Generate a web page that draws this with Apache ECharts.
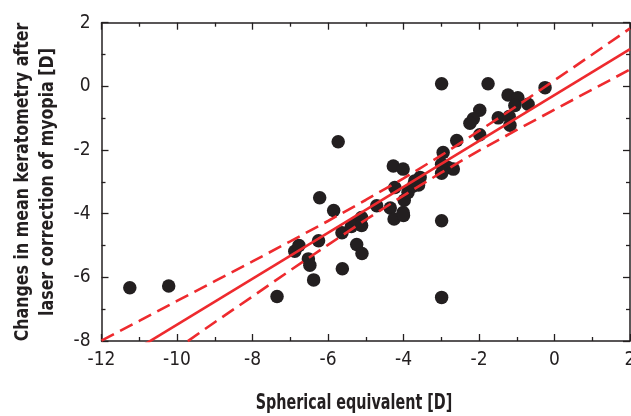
<!DOCTYPE html>
<html>
<head>
<meta charset="utf-8">
<script src="https://cdn.jsdelivr.net/npm/echarts@6/dist/echarts.min.js"></script>
<style>
html,body{margin:0;padding:0;background:#fff;}
#chart{width:631px;height:416px;}
</style>
</head>
<body>
<div id="chart"></div>
<script>
// Scatter data: [spherical equivalent, change in mean keratometry]
const sphericalEquivalent = [-11.25,-10.22,-7.35,-6.88,-6.77,-6.52,-6.48,-6.38,-6.25,-6.22,-5.85,-5.73,-5.63,-5.62,-5.38,-5.24,-5.24,-5.10,-5.11,-5.11,-4.71,-4.27,-4.01,-4.23,-4.35,-4.01,-4.25,-4.00,-3.98,-3.88,-3.74,-3.70,-3.56,-3.60,-2.99,-1.76,-0.25,-1.23,-0.97,-0.70,-1.05,-1.98,-2.15,-2.24,-1.49,-1.20,-1.18,-1.98,-2.59,-2.95,-2.99,-2.82,-2.68,-2.99,-2.99,-2.99];
const keratometryChange  = [-6.33,-6.27,-6.60,-5.18,-5.00,-5.42,-5.62,-6.08,-4.85,-3.50,-3.90,-1.74,-4.60,-5.73,-4.40,-4.27,-4.97,-5.25,-4.12,-4.37,-3.75,-2.50,-2.60,-3.18,-3.82,-3.96,-4.17,-4.06,-3.58,-3.33,-3.13,-2.97,-2.86,-3.10,0.08,0.08,-0.04,-0.27,-0.36,-0.56,-0.60,-0.75,-1.02,-1.16,-0.99,-0.95,-1.22,-1.52,-1.70,-2.08,-2.45,-2.55,-2.60,-2.73,-4.22,-6.63];

// Regression line
const fitX = [-12, 2];
const fitY = [-8.93, 1.17];
// Confidence band
const bandX     = [-12,-11,-10,-9,-8,-7,-6,-5,-4,-3,-2,-1,0,1,2];
const bandUpper = [-7.99,-7.37,-6.74,-6.12,-5.50,-4.87,-4.23,-3.57,-2.89,-2.17,-1.40,-0.62,0.19,1.00,1.82];
const bandLower = [-9.88,-9.06,-8.24,-7.41,-6.60,-5.78,-4.98,-4.19,-3.43,-2.71,-2.02,-1.37,-0.73,-0.10,0.53];

const xTicks = [-12,-10,-8,-6,-4,-2,0,2];
const yTicks = [-8,-6,-4,-2,0,2];
const xTitle = 'Spherical equivalent [D]';
const yTitle = ['Changes in mean keratometry after', 'laser correction of myopia [D]'];

const zip = (a, b) => a.map((v, i) => [v, b[i]]);
const FONT = '"DejaVu Sans Condensed","Liberation Sans Narrow",sans-serif';
const INK = '#231f20';
const RED = '#ee2a2e';

const axisCommon = {
  axisLine: {show: true, onZero: false, lineStyle: {color: INK, width: 1.5}},
  axisTick: {show: true, inside: true, length: 7, lineStyle: {color: INK, width: 1.3}},
  minorTick: {show: true, splitNumber: 2, length: 4, lineStyle: {color: INK, width: 1.3}},
  splitLine: {show: false}
};

const chart = echarts.init(document.getElementById('chart'), null, {renderer: 'canvas'});
chart.setOption({
  animation: false,
  backgroundColor: '#fff',
  grid: {left: 101.5, right: 1, top: 22.7, bottom: 75, containLabel: false, outerBoundsMode: 'none'},
  xAxis: [
    Object.assign({type: 'value', min: xTicks[0], max: xTicks[xTicks.length-1], interval: 2, position: 'bottom',
      axisLabel: {color: INK, fontFamily: FONT, fontSize: 19, margin: 10, showMaxLabel: true, showMinLabel: true}}, axisCommon),
    Object.assign({type: 'value', min: xTicks[0], max: xTicks[xTicks.length-1], interval: 2, position: 'top',
      axisLabel: {show: false}}, axisCommon)
  ],
  yAxis: [
    Object.assign({type: 'value', min: yTicks[0], max: yTicks[yTicks.length-1], interval: 2, position: 'left',
      axisLabel: {color: INK, fontFamily: FONT, fontSize: 19, margin: 11}}, axisCommon),
    Object.assign({type: 'value', min: yTicks[0], max: yTicks[yTicks.length-1], interval: 2, position: 'right',
      axisLabel: {show: false}}, axisCommon)
  ],
  series: [
    {type: 'line', data: zip(bandX, bandUpper), showSymbol: false, symbol: 'none', clip: true,
      lineStyle: {color: RED, width: 2.6, type: [14, 7]}, z: 3},
    {type: 'line', data: zip(bandX, bandLower), showSymbol: false, symbol: 'none', clip: true,
      lineStyle: {color: RED, width: 2.6, type: [14, 7]}, z: 3},
    {type: 'line', data: zip(fitX, fitY), showSymbol: false, symbol: 'none', clip: true,
      lineStyle: {color: RED, width: 2.6}, z: 3},
    {type: 'scatter', data: zip(sphericalEquivalent, keratometryChange), symbol: 'circle', symbolSize: 13.5,
      itemStyle: {color: INK, opacity: 1}, z: 2}
  ],
  graphic: [
    {type: 'text', z: 10, x: 354, y: 404, scaleX: 0.76,
      style: {text: xTitle, font: 'bold 21px ' + FONT, fill: INK, textAlign: 'center', textVerticalAlign: 'middle'}},
    {type: 'text', z: 10, x: 35, y: 182, rotation: Math.PI / 2, scaleX: 0.88,
      style: {text: yTitle.join('\n'), font: 'bold 20px ' + FONT, fill: INK, textAlign: 'center', textVerticalAlign: 'middle', lineHeight: 25}}
  ]
});
</script>
</body>
</html>
